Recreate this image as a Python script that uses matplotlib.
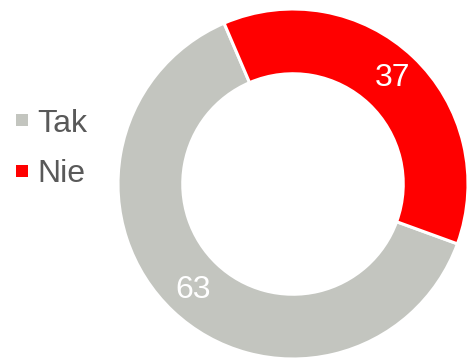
import matplotlib
matplotlib.use("Agg")
import matplotlib.pyplot as plt
from matplotlib.patches import Rectangle
import numpy as np

categories = ["Tak", "Nie"]
values = [63, 37]
colors = ["#C3C5BF", "#FF0000"]

W, H, DPI = 467, 360, 100
fig = plt.figure(figsize=(W / DPI, H / DPI), dpi=DPI)
ax = fig.add_axes([0, 0, 1, 1])
ax.set_axis_off()

cx, cy, R = 293.0, 184.0, 175.0

ring_w = 0.37
wedges, texts = ax.pie(values, colors=colors, startangle=-20, counterclock=False,
                       radius=1.0, labels=None,
                       wedgeprops=dict(width=ring_w, edgecolor="white", linewidth=2.2))
ax.set_aspect("auto")
ax.set_xlim(-cx / R, (W - cx) / R)
ax.set_ylim(-(H - cy) / R, cy / R)

label_r = 0.83
for w, v in zip(wedges, values):
    ang = np.deg2rad((w.theta1 + w.theta2) / 2)
    ax.text(label_r * np.cos(ang), label_r * np.sin(ang), str(v), color="white",
            fontsize=23, ha="center", va="center", family="Liberation Sans")

# legend
for i, (cat, col) in enumerate(zip(categories, colors)):
    ymid_f = (H - (120 + i * 51)) / H
    fig.patches.append(Rectangle((16 / W, ymid_f - 6 / H), 12 / W, 12 / H,
                                 transform=fig.transFigure, facecolor=col,
                                 edgecolor="none"))
    fig.text(37 / W, ymid_f, cat, color="#595959", fontsize=23, ha="left",
             va="center_baseline", family="Liberation Sans")

fig.savefig("out.png", dpi=DPI)
